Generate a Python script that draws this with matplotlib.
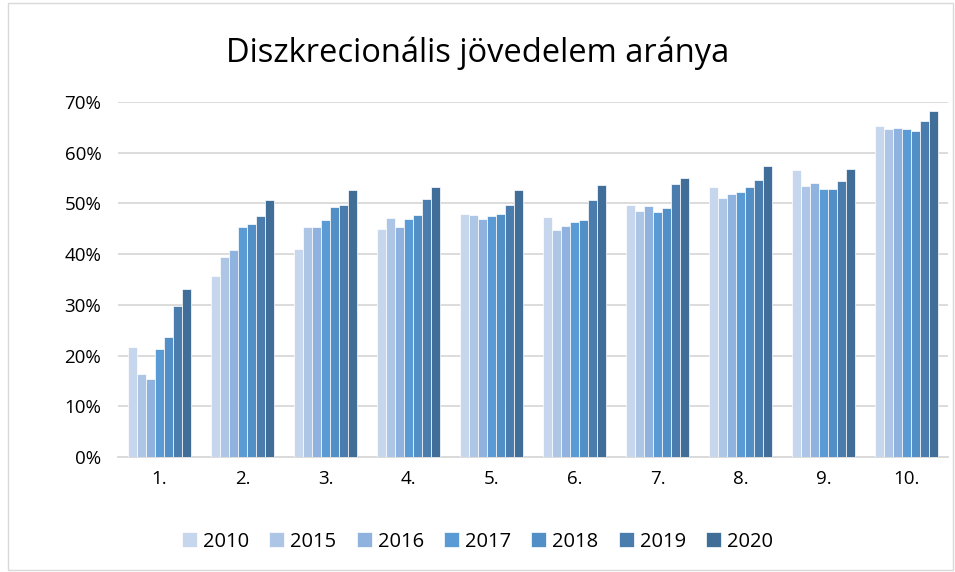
import numpy as np
import matplotlib
matplotlib.use('Agg')
import matplotlib.pyplot as plt
from matplotlib.ticker import PercentFormatter
from matplotlib.patches import Rectangle

categories = ['1.', '2.', '3.', '4.', '5.', '6.', '7.', '8.', '9.', '10.']
years = ['2010', '2015', '2016', '2017', '2018', '2019', '2020']
colors = ['#C6D6EC', '#ADC6E6', '#8FB3DE', '#5B9BD5', '#528FC6', '#4A7DAE', '#406E99']

v2010 = [21.6, 35.6, 41.0, 45.0, 48.0, 47.3, 49.6, 53.2, 56.5, 65.2]
v2015 = [16.3, 39.5, 45.3, 47.2, 47.8, 44.8, 48.6, 51.1, 53.4, 64.7]
v2016 = [15.4, 40.9, 45.3, 45.3, 46.9, 45.5, 49.4, 51.8, 54.1, 64.8]
v2017 = [21.3, 45.3, 46.8, 47.0, 47.6, 46.4, 48.3, 52.3, 52.8, 64.7]
v2018 = [23.7, 46.0, 49.3, 47.8, 48.0, 46.8, 49.1, 53.2, 52.8, 64.3]
v2019 = [29.7, 47.5, 49.6, 50.9, 49.7, 50.7, 53.9, 54.7, 54.5, 66.3]
v2020 = [33.1, 50.6, 52.6, 53.2, 52.7, 53.7, 55.0, 57.3, 56.8, 68.2]
series = [v2010, v2015, v2016, v2017, v2018, v2019, v2020]

plt.rcParams['font.family'] = ['Open Sans', 'DejaVu Sans']

fig = plt.figure(figsize=(9.55, 5.72), dpi=100)
ax = fig.add_axes([0.1236, 0.201, 0.869, 0.6207])

x = np.arange(len(categories))
width = 0.76 / len(years)
for i, (yr, vals) in enumerate(zip(years, series)):
    ax.bar(x - 0.38 + width * (i + 0.5), np.array(vals) / 100, width,
           color=colors[i], edgecolor='white', linewidth=0.5, label=yr, zorder=3)

ax.set_ylim(0, 0.7)
ax.set_xlim(-0.5, len(categories) - 0.5)
ax.set_yticks(np.arange(0, 0.71, 0.1))
ax.yaxis.set_major_formatter(PercentFormatter(1.0, decimals=0))
ax.set_xticks(x)
ax.set_xticklabels(categories)
ax.grid(axis='y', color='#D9D9D9', linewidth=1.3, zorder=0)
for s in ['top', 'right', 'left']:
    ax.spines[s].set_visible(False)
ax.spines['bottom'].set_color('#D9D9D9')
ax.spines['bottom'].set_linewidth(1.3)
ax.tick_params(length=0, labelsize=13.5, colors='#000000', pad=9)
ax.tick_params(axis='y', pad=12)

fig.text(0.5, 0.907, 'Diszkrecionális jövedelem aránya', ha='center', va='center', fontsize=23.5)

leg = ax.legend(loc='center', bbox_to_anchor=(0.5, 0.053), bbox_transform=fig.transFigure,
                ncol=7, frameon=False, fontsize=14.5, handlelength=0.75, handleheight=0.75,
                handletextpad=0.3, columnspacing=1.0)

fig.patches.append(Rectangle((0.008, 0.004), 0.99, 0.99, transform=fig.transFigure,
                             fill=False, edgecolor='#D9D9D9', linewidth=1))

fig.savefig('out.png', dpi=100)
